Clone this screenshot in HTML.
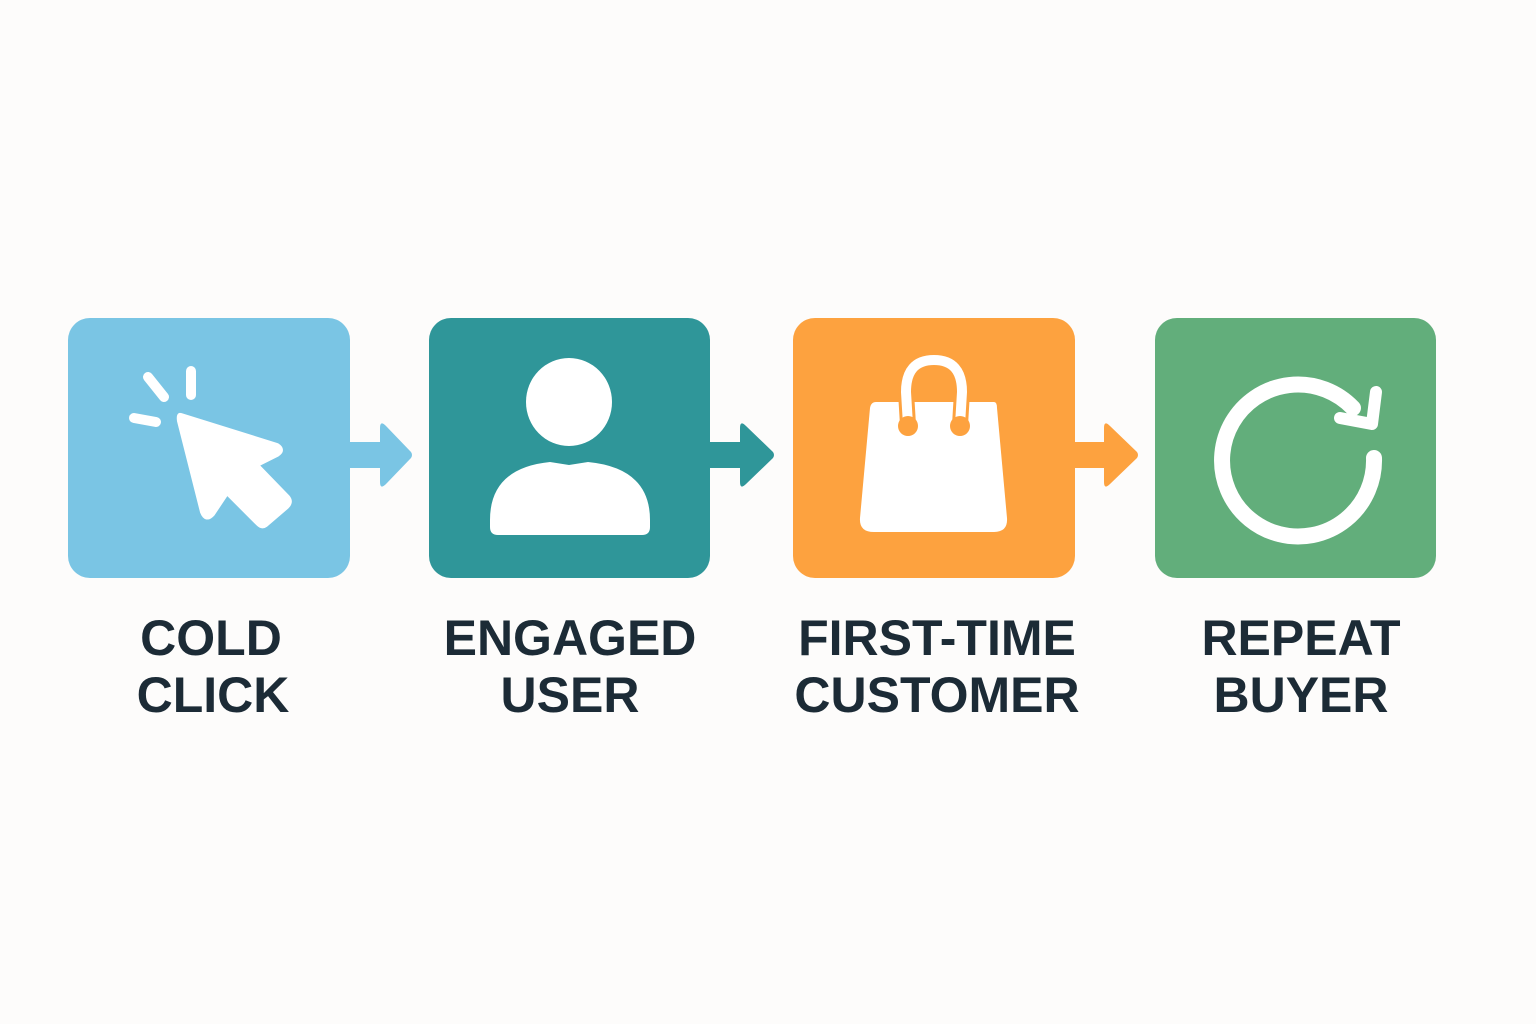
<!DOCTYPE html>
<html><head><style>
body{margin:0;background:#fdfcfb;}
svg{display:block}
text{font-family:"Liberation Sans",sans-serif;font-weight:bold;fill:#1c2b36;font-size:50px;text-anchor:middle}
</style></head><body>
<svg width="1536" height="1024" viewBox="0 0 1536 1024">
<rect width="1536" height="1024" fill="#fdfcfb"/>
<g>
<rect x="345" y="442" width="40" height="26" fill="#7ac5e4"/>
<path d="M380 428 Q380 420 386 426 L411 452 Q413 455 411 458 L386 484 Q380 490 380 482 Z" fill="#7ac5e4"/>
<rect x="705" y="442" width="40" height="26" fill="#2f9699"/>
<path d="M740 428 Q740 420 746 426 L773 452 Q775 455 773 458 L746 484 Q740 490 740 482 Z" fill="#2f9699"/>
<rect x="1070" y="442" width="40" height="26" fill="#fda23f"/>
<path d="M1104 428 Q1104 420 1110 426 L1137 452 Q1139 455 1137 458 L1110 484 Q1104 490 1104 482 Z" fill="#fda23f"/>
</g>
<rect x="68" y="318" width="282" height="260" rx="22" fill="#7ac5e4"/>
<rect x="429" y="318" width="281" height="260" rx="22" fill="#2f9699"/>
<rect x="793" y="318" width="282" height="260" rx="22" fill="#fda23f"/>
<rect x="1155" y="318" width="281" height="260" rx="22" fill="#62ae7b"/>
<g stroke="#fff" stroke-width="10" stroke-linecap="round" fill="none">
<line x1="148" y1="377" x2="164" y2="397"/><line x1="191" y1="371" x2="191" y2="395"/><line x1="134" y1="418" x2="156" y2="422"/>
</g>
<path d="M181 415 L277 445 Q285 450 277 455 L257 465 L288 497 Q292 502 287 507 L266 525 Q262 528 258 524 L227 493 L213 514 Q206 522 202 512 L179 421 Q178 414 181 415 Z" fill="#fff" stroke="#fff" stroke-width="4" stroke-linejoin="round"/>
<ellipse cx="569" cy="402" rx="43" ry="44" fill="#fff"/>
<path d="M490 520 Q490 468 550 462 L569 465 L588 462 Q650 468 650 520 L650 527 Q650 535 642 535 L498 535 Q490 535 490 527 Z" fill="#fff"/>
<path d="M876 402 L994 402 Q997 402 997 408 L1007 518 Q1008 532 994 532 L874 532 Q859 532 860 518 L870 408 Q871 402 876 402 Z" fill="#fff"/>
<path d="M908 425 L906 392 Q906 360 934 360 Q962 360 962 392 L960 425" stroke="#fda23f" stroke-width="16" fill="none"/>
<path d="M908 425 L906 392 Q906 360 934 360 Q962 360 962 392 L960 425" stroke="#fff" stroke-width="10" fill="none"/>
<path d="M898 402 L898 380 M970 402 L970 380" stroke="#fda23f" stroke-width="0"/>
<circle cx="908" cy="426" r="10" fill="#fda23f"/><circle cx="960" cy="426" r="10" fill="#fda23f"/>
<path d="M1353 408 A76 76 0 1 0 1374 458" stroke="#fff" stroke-width="16" fill="none" stroke-linecap="round"/>
<path d="M1376 392 L1372 424 L1340 418" stroke="#fff" stroke-width="12" fill="none" stroke-linecap="round" stroke-linejoin="round"/>
<text x="211" y="655">COLD</text><text x="213" y="712">CLICK</text>
<text x="570" y="655">ENGAGED</text><text x="570" y="712">USER</text>
<text x="937" y="655">FIRST-TIME</text><text x="937" y="712">CUSTOMER</text>
<text x="1301" y="655">REPEAT</text><text x="1301" y="712">BUYER</text>
</svg>
</body></html>
